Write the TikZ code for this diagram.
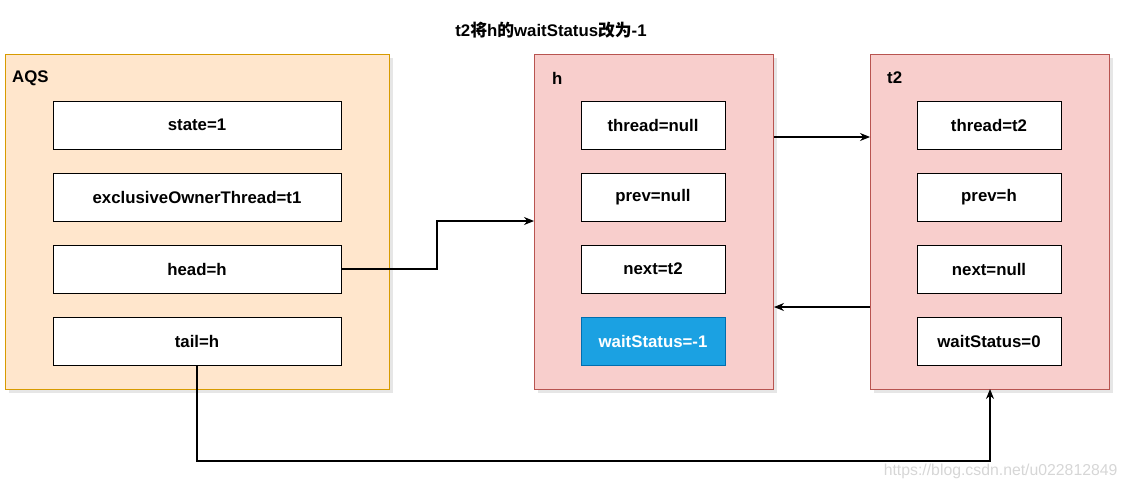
\documentclass[tikz,border=0pt]{standalone}
\usepackage{fontspec}
\setmainfont{Liberation Sans}
\newfontfamily\cjk{Noto Sans CJK SC}
\usetikzlibrary{arrows.meta,shadows}
\definecolor{aqsfill}{HTML}{FFE6CC}
\definecolor{aqsdraw}{HTML}{D79B00}
\definecolor{redfill}{HTML}{F8CECC}
\definecolor{reddraw}{HTML}{B85450}
\definecolor{bluefill}{HTML}{1BA1E2}
\definecolor{bluedraw}{HTML}{006EAF}
\tikzset{
  outerbox/.style={draw=#1, line width=1pt, anchor=north west, inner sep=0pt,
    drop shadow={opacity=0.2, shadow xshift=3pt, shadow yshift=-3pt}},
  field/.style={draw=black, fill=white, line width=1pt, minimum height=48pt,
    inner sep=0pt, font=\fontsize{16.8pt}{19pt}\selectfont\bfseries},
  boxlabel/.style={anchor=west, inner sep=0pt, font=\fontsize{16.8pt}{19pt}\selectfont\bfseries},
  conn/.style={draw=black, line width=1.1pt, -{Stealth[length=10pt,width=8pt]}}
}
\begin{document}
\begin{tikzpicture}[x=1pt,y=-1pt]
\useasboundingbox (0,0) rectangle (1129,490);
% title
\node[font=\fontsize{16.8pt}{19pt}\selectfont\bfseries] (title) at (551,30) {t2{\cjk\bfseries 将}h{\cjk\bfseries 的}waitStatus{\cjk\bfseries 改为}-1};
% outer boxes
\node[outerbox=aqsdraw, fill=aqsfill, minimum width=384pt, minimum height=335pt] (aqs) at (5,54) {};
\node[outerbox=reddraw, fill=redfill, minimum width=239pt, minimum height=335pt] (h) at (534,54) {};
\node[outerbox=reddraw, fill=redfill, minimum width=239pt, minimum height=335pt] (t2) at (870,54) {};
\node[boxlabel] (aqslbl) at (12,78) {AQS};
\node[boxlabel] (hlbl) at (552,78) {h};
\node[boxlabel] (t2lbl) at (887,78) {t2};
% AQS fields
\node[field, minimum width=288pt] (state) at (197,125) {state=1};
\node[field, minimum width=288pt] (owner) at (197,197) {exclusiveOwnerThread=t1};
\node[field, minimum width=288pt] (head) at (197,269) {head=h};
\node[field, minimum width=288pt] (tail) at (197,341) {tail=h};
% h fields
\node[field, minimum width=144pt] (hthread) at (653,125) {thread=null};
\node[field, minimum width=144pt] (hprev) at (653,197) {prev=null};
\node[field, minimum width=144pt] (hnext) at (653,269) {next=t2};
\node[field, minimum width=144pt, draw=bluedraw, fill=bluefill, text=white] (hws) at (653,341) {waitStatus=-1};
% t2 fields
\node[field, minimum width=144pt] (tthread) at (989,125) {thread=t2};
\node[field, minimum width=144pt] (tprev) at (989,197) {prev=h};
\node[field, minimum width=144pt] (tnext) at (989,269) {next=null};
\node[field, minimum width=144pt] (tws) at (989,341) {waitStatus=0};
% connectors
\draw[conn] (head.east) -- (437,269) -- (437,221) -- (h.west |- 0,221);
\draw[conn] (h.east |- 0,137) -- (t2.west |- 0,137);
\draw[conn] (t2.west |- 0,307) -- (h.east |- 0,307);
\draw[conn] (tail.south) -- (197,461) -- (990,461) -- (990,389);
% watermark
\node[anchor=east, text=black!16, font=\fontsize{15.8pt}{18pt}\selectfont] (wm) at (1121,471) {https://blog.csdn.net/u022812849};
\end{tikzpicture}
\end{document}
